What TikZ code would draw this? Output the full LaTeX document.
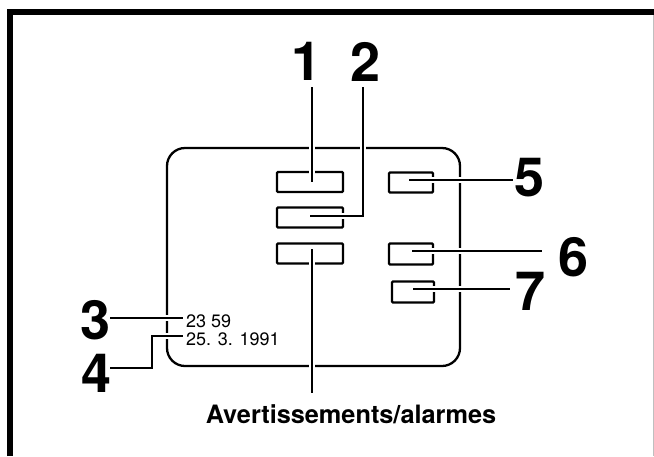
\documentclass[tikz,border=0pt]{standalone}
\usepackage{fontspec}
\setmainfont{TeX Gyre Heros}
\begin{document}
\begin{tikzpicture}[x=1pt,y=-1pt,
  lead/.style={line width=1.4pt, preaction={draw=white,line width=6.5pt}},
  btn/.style={draw, line width=2.2pt, inner sep=0pt, rounded corners=1pt, minimum height=20pt},
  wbtn/.style={btn, minimum width=66pt},
  nbtn/.style={btn, minimum width=44pt},
  big/.style={font=\fontsize{54pt}{54pt}\selectfont\bfseries, inner sep=0pt},
  small/.style={font=\fontsize{18pt}{18pt}\selectfont, inner sep=0pt, anchor=west},
  captext/.style={font=\fontsize{25.3pt}{25pt}\selectfont\bfseries, inner sep=0pt}]
\useasboundingbox (0,0) rectangle (654,456);
% frame
\draw[line width=5.5pt] (10,456) -- (10,12) -- (654,12);
\draw[black!25, line width=0.8pt] (653.4,15) -- (653.4,456);
% panel
\node[draw, line width=2.3pt, rounded corners=18pt, minimum width=293pt, minimum height=218pt, inner sep=0pt] (panel) at (313.5,257) {};
% buttons
\node[wbtn] (bA) at (310,182) {};
\node[wbtn] (bB) at (310,217.5) {};
\node[wbtn] (bC) at (310,253.5) {};
\node[nbtn] (bD) at (411,182.5) {};
\node[nbtn, minimum height=21pt] (bE) at (411,254) {};
\node[nbtn, minimum width=42pt, minimum height=21pt] (bF) at (413,292) {};
% texts
\node[small] (time) at (186,321.5) {23 59};
\node[small] (date) at (186,339) {25. 3. 1991};
% leader coordinates
\coordinate (t1) at (312,87);
\coordinate (e1) at (312,182);
\coordinate (t2) at (363,87);
\coordinate (k2) at (363,216);
\coordinate (e2) at (310,216);
\coordinate (s3) at (110,318);
\coordinate (e3) at (183,318);
\coordinate (s4) at (110,368);
\coordinate (k4) at (152,368);
\coordinate (k4b) at (152,336);
\coordinate (e4) at (183,336);
\coordinate (s5) at (409,180);
\coordinate (e5) at (513,180);
\coordinate (s6) at (412,251);
\coordinate (e6) at (542,251);
\coordinate (s7) at (413,289);
\coordinate (e7) at (510,289);
\coordinate (sA) at (312,249);
\coordinate (eA) at (312,393);
% leaders
\draw[lead] (t1) -- (e1);
\draw[lead] (t2) -- (k2) -- (e2);
\draw[lead] (s3) -- (e3);
\draw[lead] (s4) -- (k4) -- (k4b) -- (e4);
\draw[lead] (s5) -- (e5);
\draw[lead] (s6) -- (e6);
\draw[lead] (s7) -- (e7);
\draw[lead] (sA) -- (eA);
% labels
\node[big] (l1) at (306.5,61.5) {1};
\node[big] (l2) at (366,61.5) {2};
\node[big] (l3) at (96,320) {3};
\node[big] (l4) at (96.5,373.5) {4};
\node[big] (l5) at (529.5,177.5) {5};
\node[big] (l6) at (574,257) {6};
\node[big] (l7) at (530.5,291.5) {7};
\node[captext] (av) at (351,414) {Avertissements/alarmes};
\end{tikzpicture}
\end{document}
